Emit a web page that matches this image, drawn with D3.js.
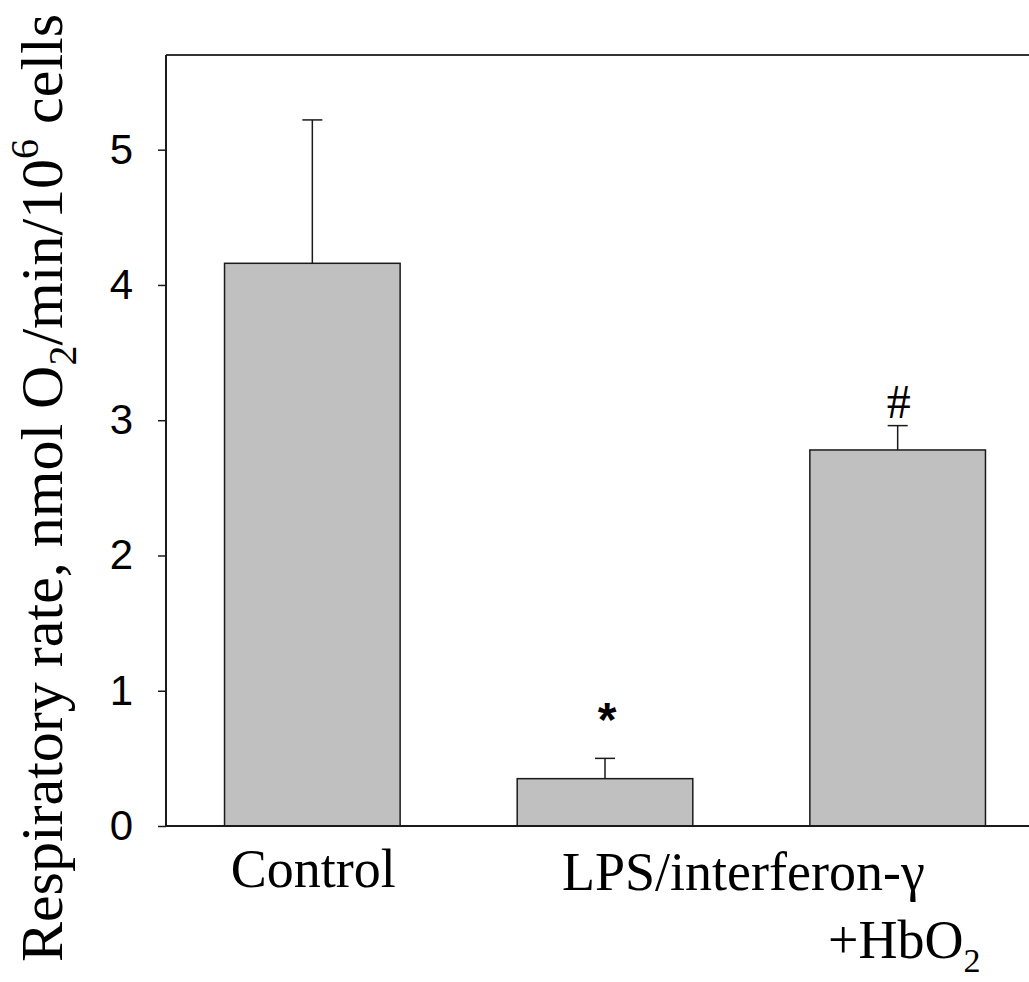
<!DOCTYPE html>
<html>
<head>
<meta charset="utf-8">
<script src="https://cdn.jsdelivr.net/npm/d3@7"></script>
<style>
  html, body { margin: 0; padding: 0; background: #fff; }
  svg { display: block; }
</style>
</head>
<body>
<svg id="chart" width="1029" height="982"></svg>
<script>
// Respiratory rate per group (mean and upper error bar)
const groups = ["Control", "LPS/interferon-γ", "LPS/interferon-γ +HbO2"];
const means = [4.16, 0.35, 2.78];
const upperErr = [5.22, 0.50, 2.96];
const marks = ["", "*", "#"];
const yTicks = [0, 1, 2, 3, 4, 5];

const svg = d3.select("#chart");
const W = 1029, H = 982;
const plot = { left: 166, top: 55, bottom: 826, right: 1044 };

const x = d3.scaleBand()
  .domain(groups)
  .range([plot.left, plot.right])
  .paddingInner(0.4)
  .paddingOuter(0.2);

const y = d3.scaleLinear()
  .domain([0, 5.7])
  .range([plot.bottom, plot.top]);

const ink = "#1a1a1a";
const serif = "Liberation Serif, Times New Roman, serif";
const sans = "Liberation Sans, Arial, sans-serif";

// Frame: top line
svg.append("line")
  .attr("x1", plot.left).attr("x2", W + 10)
  .attr("y1", plot.top).attr("y2", plot.top)
  .attr("stroke", "#333").attr("stroke-width", 2);

// Bars
svg.append("g").selectAll("rect")
  .data(groups)
  .join("rect")
  .attr("x", d => x(d))
  .attr("y", (d, i) => y(means[i]))
  .attr("width", x.bandwidth())
  .attr("height", (d, i) => y(0) - y(means[i]))
  .attr("fill", "#c0c0c0")
  .attr("stroke", ink)
  .attr("stroke-width", 1.5);

// Error bars (upper only)
const capHalf = 10;
const eg = svg.append("g").attr("stroke", ink).attr("stroke-width", 1.5);
groups.forEach((g, i) => {
  const cx = x(g) + x.bandwidth() / 2;
  eg.append("line")
    .attr("x1", cx).attr("x2", cx)
    .attr("y1", y(means[i])).attr("y2", y(upperErr[i]));
  eg.append("line")
    .attr("x1", cx - capHalf).attr("x2", cx + capHalf)
    .attr("y1", y(upperErr[i])).attr("y2", y(upperErr[i]));
});

// Significance marks above the error caps
groups.forEach((g, i) => {
  if (!marks[i]) return;
  const cx = x(g) + x.bandwidth() / 2;
  const t = svg.append("text")
    .attr("text-anchor", "middle")
    .attr("fill", "#000")
    .text(marks[i]);
  if (marks[i] === "*") {
    t.attr("x", cx + 2)
      .attr("y", y(upperErr[i]) - 22)
      .attr("font-family", sans)
      .attr("font-weight", "bold")
      .attr("font-size", 48);
  } else {
    t.attr("x", cx + 1)
      .attr("y", y(upperErr[i]) - 8)
      .attr("font-family", serif)
      .attr("font-size", 48);
  }
});

// Y axis
const yAxis = d3.axisLeft(y)
  .tickValues(yTicks)
  .tickFormat(d3.format("d"))
  .tickSize(8)
  .tickPadding(25);

const ya = svg.append("g")
  .attr("transform", `translate(${plot.left},0)`)
  .call(yAxis);
ya.select(".domain")
  .attr("d", `M0,${plot.top}V${plot.bottom}`)
  .attr("stroke", ink).attr("stroke-width", 2);
ya.selectAll(".tick line").attr("stroke", ink).attr("stroke-width", 1.5);
ya.selectAll(".tick text")
  .attr("font-family", sans)
  .attr("font-size", 42)
  .attr("fill", "#000");

// X baseline
svg.append("line")
  .attr("x1", plot.left).attr("x2", W + 10)
  .attr("y1", plot.bottom).attr("y2", plot.bottom)
  .attr("stroke", ink).attr("stroke-width", 2);

// Category labels
const labelSize = 54;
svg.append("text")
  .attr("x", x(groups[0]) + x.bandwidth() / 2 + 1)
  .attr("y", 887)
  .attr("text-anchor", "middle")
  .attr("font-family", serif).attr("font-size", labelSize)
  .text("Control");
svg.append("text")
  .attr("x", 562)
  .attr("y", 890)
  .attr("font-family", serif).attr("font-size", labelSize)
  .text("LPS/interferon-γ");
const hb = svg.append("text")
  .attr("x", 828)
  .attr("y", 958)
  .attr("font-family", serif).attr("font-size", labelSize);
hb.append("tspan").text("+HbO");
hb.append("tspan").attr("dy", 14).attr("font-size", 34).text("2");

// Y axis title
const yt = svg.append("text")
  .attr("transform", "translate(62,488) rotate(-90)")
  .attr("text-anchor", "middle")
  .attr("font-family", serif)
  .attr("font-size", 60)
  .attr("fill", "#000");
yt.append("tspan").text("Respiratory rate, nmol O");
yt.append("tspan").attr("dy", 14).attr("font-size", 40).text("2");
yt.append("tspan").attr("dy", -14).text("/min/10");
yt.append("tspan").attr("dy", -24).attr("font-size", 40).text("6");
yt.append("tspan").attr("dy", 24).text(" cells");
</script>
</body>
</html>
